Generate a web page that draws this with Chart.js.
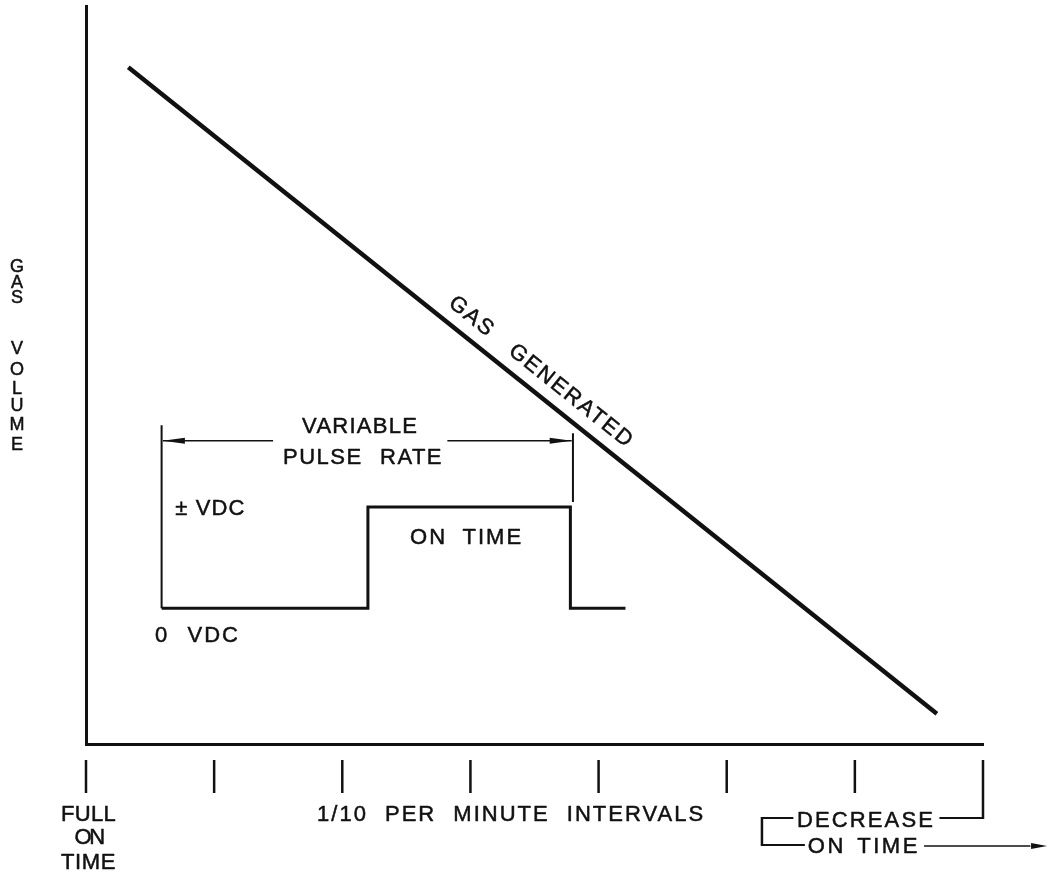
<!DOCTYPE html>
<html><head><meta charset="utf-8">
<script src="https://cdn.jsdelivr.net/npm/chart.js@4.4.0/dist/chart.umd.min.js"></script>
<style>html,body{margin:0;padding:0;background:#fff;}canvas{display:block;}</style>
</head><body>
<canvas id="c" width="1048" height="879"></canvas>
<script>
// ---- data (x: 1/10-minute intervals, y: relative gas volume / signal level) ----
const intervalTicks = [0, 1, 2, 3, 4, 5, 6, 7];
const gasX = [0.33, 6.64];
const gasY = [91.7, 4.1];
const pulseX = [0.59, 2.20, 2.20, 3.78, 3.78, 4.21];
const pulseY = [18.4, 18.4, 32.1, 32.1, 18.4, 18.4];
const startMarkX = [0.59, 0.59];
const startMarkY = [43.2, 18.4];
const endMarkX = [3.80, 3.80];
const endMarkY = [42.1, 32.8];
const rateArrowLeftX = [0.60, 1.46];
const rateArrowRightX = [2.82, 3.79];
const rateArrowY = 41.1;

const yTitle = "GAS VOLUME";
const xTitle = "1/10 PER MINUTE INTERVALS";
const startLabel = ["FULL", "ON", "TIME"];
const endLabel = ["DECREASE", "ON TIME"];
const lineLabel = "GAS   GENERATED";
const rateLabel = ["VARIABLE", "PULSE RATE"];
const highLabel = "\u00B1 VDC";
const lowLabel = "0 VDC";
const onLabel = "ON TIME";

const INK = '#111';
const FAMILY = '"Liberation Sans", Arial, sans-serif';
const FONT = '22px ' + FAMILY;

function pts(xs, ys) { return xs.map((x, i) => ({ x: x, y: ys[i] })); }
function seg(data, w) {
  return { data: data, showLine: true, borderColor: INK, borderWidth: w, pointRadius: 0,
           borderCapStyle: 'butt', borderJoinStyle: 'miter', tension: 0, fill: false };
}

function fitText(ctx, s, cx, cy, width, ls) {
  ls = ls === undefined ? 1.5 : ls;
  ctx.save();
  ctx.font = FONT;
  ctx.fillStyle = INK;
  ctx.strokeStyle = INK;
  ctx.lineWidth = 0.5;
  ctx.lineJoin = 'round';
  ctx.textAlign = 'left';
  ctx.textBaseline = 'middle';
  ctx.letterSpacing = ls + 'px';
  ctx.wordSpacing = '0px';
  let w = ctx.measureText(s).width;
  const spaces = (s.match(/ /g) || []).length;
  if (width) {
    if (spaces > 0) {
      ctx.wordSpacing = Math.max(0, (width - w) / spaces) + 'px';
    } else {
      ctx.letterSpacing = (ls + (width - w) / s.length) + 'px';
    }
    w = ctx.measureText(s).width;
  }
  ctx.fillText(s, cx - w / 2, cy);
  ctx.strokeText(s, cx - w / 2, cy);
  ctx.restore();
}

function line(ctx, x1, y1, x2, y2, w) {
  ctx.save();
  ctx.strokeStyle = INK; ctx.lineWidth = w; ctx.lineCap = 'butt';
  ctx.beginPath(); ctx.moveTo(x1, y1); ctx.lineTo(x2, y2); ctx.stroke();
  ctx.restore();
}
function head(ctx, tipX, tipY, dir, len, half) {
  ctx.save();
  ctx.fillStyle = INK;
  ctx.beginPath();
  ctx.moveTo(tipX, tipY);
  ctx.lineTo(tipX - dir * len, tipY - half);
  ctx.lineTo(tipX - dir * len, tipY + half);
  ctx.closePath(); ctx.fill();
  ctx.restore();
}

const annotations = {
  id: 'annotations',
  afterDatasetsDraw(chart) {
    const ctx = chart.ctx;
    const xs = chart.scales.x, ys = chart.scales.y;
    const X = v => xs.getPixelForValue(v);
    const Y = v => ys.getPixelForValue(v);
    const bottom = chart.chartArea.bottom;

    // interval tick marks below the axis
    intervalTicks.forEach((t, i) => {
      const last = i === intervalTicks.length - 1;
      line(ctx, X(t), bottom + 16, X(t), bottom + (last ? 75 : 49), 2.5);
    });

    // arrow heads of the variable pulse-rate dimension
    const ay = Y(rateArrowY);
    head(ctx, X(rateArrowLeftX[0]), ay, -1, 22, 3);
    head(ctx, X(rateArrowRightX[1]), ay, 1, 22, 3);

    // Y title: stacked letters
    const yPos = [267, 283, 298, null, 349, 370, 389, 406, 425, 445];
    yTitle.split('').forEach((ch, i) => {
      if (ch === ' ') return;
      ctx.save();
      ctx.font = '18px ' + FAMILY;
      ctx.fillStyle = INK; ctx.strokeStyle = INK; ctx.lineWidth = 0.5;
      ctx.textAlign = 'center'; ctx.textBaseline = 'middle';
      ctx.fillText(ch, 17, yPos[i]);
      ctx.strokeText(ch, 17, yPos[i]);
      ctx.restore();
    });

    // labels under the axis
    fitText(ctx, startLabel[0], X(0.02), bottom + 71, 55);
    fitText(ctx, startLabel[1], X(0.02), bottom + 94, 28);
    fitText(ctx, startLabel[2], X(0.02), bottom + 119, 55);
    fitText(ctx, xTitle, X(3.317), bottom + 71, 388, 2);

    // decrease-on-time bracket
    const by1 = bottom + 74, by2 = bottom + 101;
    fitText(ctx, endLabel[0], X(6.087), bottom + 77, 138);
    fitText(ctx, endLabel[1], X(6.07), bottom + 103, 112, 2.5);
    line(ctx, X(5.275), by1, X(5.52), by1, 2);
    line(ctx, X(6.66), by1, X(7) + 1, by1, 2);
    line(ctx, X(5.275), by1 - 1, X(5.275), by2 + 1, 2.5);
    line(ctx, X(5.275), by2, X(5.61), by2, 2);
    line(ctx, X(6.54), by2 + 1, X(7.37), by2 + 1, 1.5);
    head(ctx, X(7.5), by2 + 1, 1, 16, 3);

    // pulse annotations
    fitText(ctx, rateLabel[0], X(2.139), Y(42.9), 116);
    fitText(ctx, rateLabel[1], X(2.162), Y(38.7), 160, 1.5);
    fitText(ctx, highLabel, X(0.97), Y(31.8), 70, 1);
    fitText(ctx, onLabel, X(2.97), Y(27.9), 113, 2);
    fitText(ctx, lowLabel, X(0.87), Y(14.65), 85, 2);

    // rotated label along the gas line
    const p1x = X(gasX[0]), p1y = Y(gasY[0]), p2x = X(gasX[1]), p2y = Y(gasY[1]);
    const ang = Math.atan2(p2y - p1y, p2x - p1x);
    const dx = Math.cos(ang), dy = Math.sin(ang);
    const fx = X(3.456);
    const fy = p1y + (fx - p1x) * (p2y - p1y) / (p2x - p1x);
    const cx = fx + 19.5 * dy, cy = fy - 19.5 * dx;
    ctx.save();
    ctx.translate(cx, cy);
    ctx.rotate(ang);
    fitText(ctx, lineLabel, 0, 0, 216, 2);
    ctx.restore();
  }
};

new Chart(document.getElementById('c'), {
  type: 'scatter',
  data: {
    datasets: [
      seg(pts(gasX, gasY), 4.5),
      seg(pts(pulseX, pulseY), 3),
      seg(pts(startMarkX, startMarkY), 2),
      seg(pts(endMarkX, endMarkY), 2),
      seg(pts(rateArrowLeftX, [rateArrowY, rateArrowY]), 1.5),
      seg(pts(rateArrowRightX, [rateArrowY, rateArrowY]), 1.5)
    ]
  },
  options: {
    responsive: false,
    animation: false,
    devicePixelRatio: 1,
    layout: { padding: { left: 86, right: 65, top: 6, bottom: 135 } },
    plugins: { legend: { display: false }, tooltip: { enabled: false } },
    scales: {
      x: { type: 'linear', min: 0, max: 7,
           grid: { display: false, drawTicks: false },
           ticks: { display: false },
           border: { display: true, color: INK, width: 3 } },
      y: { type: 'linear', min: 0, max: 100,
           grid: { display: false, drawTicks: false },
           ticks: { display: false },
           border: { display: true, color: INK, width: 3 } }
    }
  },
  plugins: [annotations]
});
</script>
</body></html>
